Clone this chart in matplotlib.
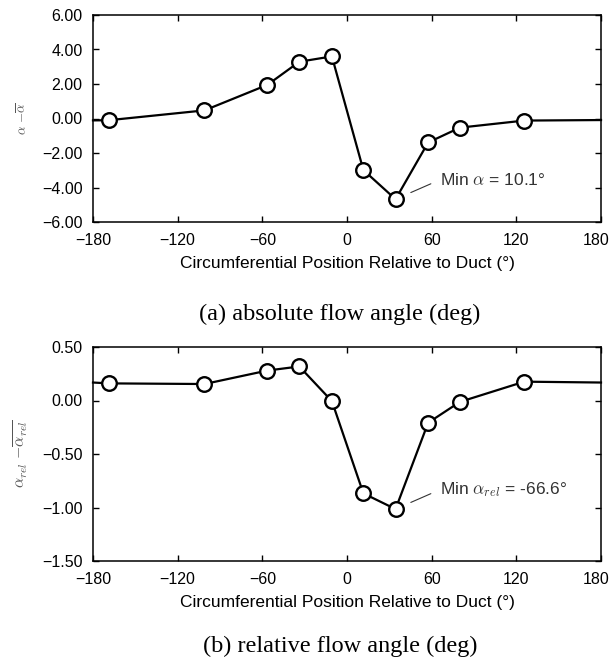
import numpy as np
import matplotlib.pyplot as plt
from matplotlib.ticker import FuncFormatter
from matplotlib.transforms import ScaledTranslation

plt.rcParams['font.family'] = ['Liberation Sans', 'DejaVu Sans']
plt.rcParams['mathtext.fontset'] = 'cm'

# circumferential positions (deg); the trace runs out to +/-180 without markers
theta = [-180, -168.9, -101.0, -56.4, -33.8, -10.7, 11.6, 34.4, 57.5, 80.0, 125.6, 180]

# absolute flow angle deviation (deg)
d_alpha = [-0.11, -0.10, 0.47, 1.95, 3.29, 3.60, -2.99, -4.68, -1.39, -0.53, -0.12, -0.09]

# relative flow angle deviation (deg)
d_alpha_rel = [0.168, 0.160, 0.154, 0.280, 0.318, -0.006, -0.868, -1.015, -0.208, -0.013, 0.176, 0.168]

xticks = [-180, -120, -60, 0, 60, 120, 180]
yticks_a = [-6, -4, -2, 0, 2, 4, 6]
yticks_b = [-1.5, -1.0, -0.5, 0.0, 0.5]

fig = plt.figure(figsize=(6.12, 6.6), dpi=100)
ax1 = fig.add_axes([93/612, 1 - 222/660, 508/612, 207/660])
ax2 = fig.add_axes([93/612, 1 - 561/660, 508/612, 214/660])

two_dp = FuncFormatter(lambda v, _: f'{v:.2f}'.replace('-', '\u2212'))


def style(ax, yticks, ylim, ylabel, ysize):
    ax.set_xlim(-180, 180)
    ax.set_ylim(*ylim)
    ax.set_xticks(xticks)
    ax.set_yticks(yticks)
    ax.yaxis.set_major_formatter(two_dp)
    ax.tick_params(direction='in', length=4, width=1, labelsize=11.5,
                   top=True, right=True, colors='black')
    ax.tick_params(axis='y', pad=7.5)
    ax.tick_params(axis='x', pad=8)
    for s in ax.spines.values():
        s.set_linewidth(1.1)
    ax.set_xlabel('Circumferential Position Relative to Duct (°)', fontsize=12.5, labelpad=6)
    ax.set_ylabel(ylabel, fontsize=ysize, color='#555555', labelpad=9)
    # keep the last x label inside the figure edge
    last = ax.get_xticklabels()[-1]
    last.set_horizontalalignment('right')
    last.set_transform(last.get_transform() + ScaledTranslation(0.08, 0, fig.dpi_scale_trans))


def trace(ax, y):
    ax.plot(theta, y, '-o', color='black', lw=1.6, ms=10.5, mew=1.7,
            mfc='white', mec='black', markevery=slice(1, -1), clip_on=False)


def note(ax, y, label):
    i = int(np.argmin(y))
    ax.annotate(label, xy=(theta[i], y[i]), xytext=(32, 14), textcoords='offset points',
                ha='left', va='center', fontsize=12.5, color='#333333',
                arrowprops=dict(arrowstyle='-', color='#333333', lw=0.8,
                                shrinkA=5, shrinkB=12, relpos=(0, 0.5)))


trace(ax1, d_alpha)
style(ax1, yticks_a, (-6, 6), r'$\alpha\ {-}\overline{\alpha}$', 9.5)
note(ax1, d_alpha, r'Min $\alpha$ = 10.1°')

trace(ax2, d_alpha_rel)
style(ax2, yticks_b, (-1.5, 0.5), r'$\alpha_{rel}\ {-}\overline{\alpha_{rel}}$', 11.5)
note(ax2, d_alpha_rel, r'Min $\alpha_{rel}$ = -66.6°')

fig.text(340/612, 1 - 314/660, '(a) absolute flow angle (deg)', ha='center', va='center',
         fontsize=17.5, family='Liberation Serif')
fig.text(340/612, 1 - 646/660, '(b) relative flow angle (deg)', ha='center', va='center',
         fontsize=17.5, family='Liberation Serif')

fig.savefig('out.png', dpi=100)
